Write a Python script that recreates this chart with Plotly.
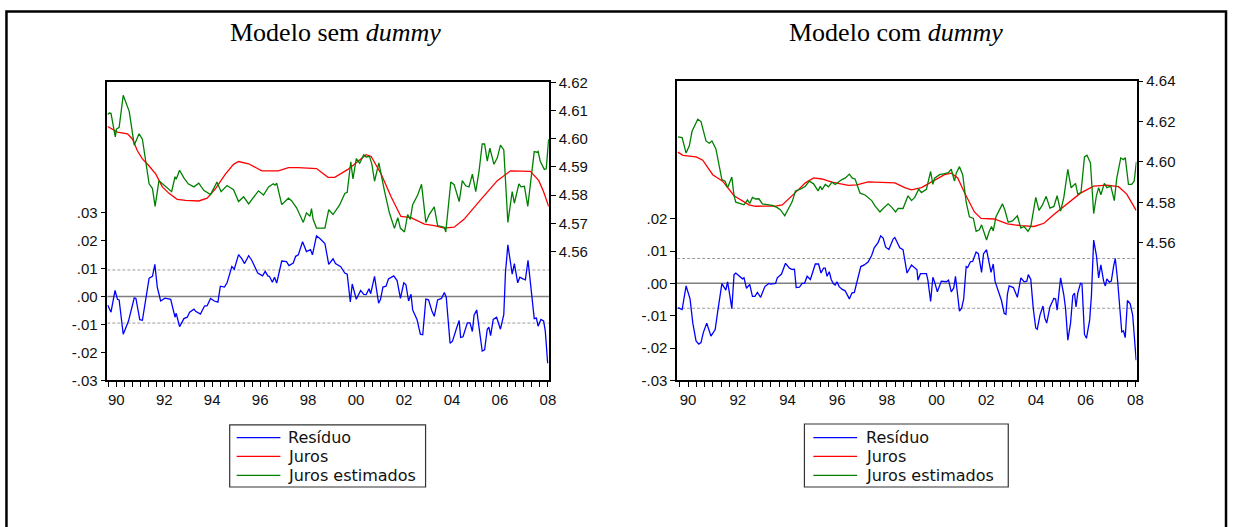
import plotly.graph_objects as go

# ---------------- Modelo sem dummy ----------------
res_sem_t = [1989.64, 1989.78, 1989.95, 1990.05, 1990.12, 1990.29, 1990.51, 1990.75, 1990.82, 1990.98,
             1991.09, 1991.23, 1991.37, 1991.51, 1991.61, 1991.71, 1991.85, 1992.03, 1992.27, 1992.45,
             1992.50, 1992.64, 1992.82, 1992.96, 1993.06, 1993.24, 1993.31, 1993.51, 1993.68, 1993.79,
             1993.93, 1994.09, 1994.24, 1994.34, 1994.51, 1994.62, 1994.82, 1994.92, 1995.10, 1995.24,
             1995.35, 1995.52, 1995.65, 1995.90, 1996.00, 1996.10, 1996.21, 1996.32, 1996.39, 1996.51,
             1996.60, 1996.69, 1996.90, 1997.10, 1997.20, 1997.38, 1997.48, 1997.59, 1997.77, 1997.93,
             1998.10, 1998.18, 1998.35, 1998.49, 1998.70, 1998.86, 1999.04, 1999.14, 1999.36, 1999.53,
             1999.63, 1999.76, 1999.84, 2000.01, 2000.19, 2000.32, 2000.42, 2000.54, 2000.61, 2000.77,
             2000.94, 2001.02, 2001.12, 2001.25, 2001.35, 2001.57, 2001.71, 2001.85, 2001.99, 2002.08,
             2002.19, 2002.29, 2002.36, 2002.54, 2002.68, 2002.78, 2002.91, 2003.02, 2003.16, 2003.26,
             2003.40, 2003.56, 2003.68, 2003.76, 2003.92, 2004.02, 2004.20, 2004.30, 2004.36, 2004.46,
             2004.64, 2004.75, 2004.85, 2004.92, 2005.03, 2005.15, 2005.26, 2005.36, 2005.47, 2005.54,
             2005.61, 2005.72, 2005.86, 2006.02, 2006.16, 2006.23, 2006.33, 2006.51, 2006.60, 2006.74,
             2006.83, 2006.96, 2007.06, 2007.17, 2007.27, 2007.34, 2007.43, 2007.52, 2007.59, 2007.71,
             2007.82, 2007.89, 2007.99]
res_sem_v = [-0.0030, -0.0056, 0.0022, -0.0010, -0.0012, -0.0135, -0.0088, -0.0005, -0.0007, -0.0083,
             -0.0085, 0.0000, 0.0066, 0.0072, 0.0115, 0.0034, -0.0016, -0.0006, -0.0010, -0.0074,
             -0.0060, -0.0108, -0.0079, -0.0074, -0.0056, -0.0045, -0.0053, -0.0063, -0.0034, -0.0033,
             -0.0007, -0.0016, -0.0020, 0.0037, 0.0034, 0.0049, 0.0107, 0.0098, 0.0150, 0.0135,
             0.0118, 0.0146, 0.0130, 0.0084, 0.0080, 0.0074, 0.0090, 0.0074, 0.0072, 0.0051,
             0.0069, 0.0048, 0.0127, 0.0125, 0.0111, 0.0120, 0.0144, 0.0149, 0.0196, 0.0161,
             0.0168, 0.0149, 0.0217, 0.0208, 0.0190, 0.0115, 0.0135, 0.0118, 0.0107, 0.0084,
             0.0080, -0.0019, 0.0045, -0.0010, 0.0022, 0.0008, 0.0007, 0.0028, 0.0010, 0.0072,
             -0.0024, -0.0010, 0.0034, 0.0037, 0.0063, 0.0074, 0.0057, -0.0007, 0.0049, 0.0042,
             -0.0016, 0.0008, -0.0048, -0.0082, -0.0135, -0.0137, -0.0009, -0.0012, -0.0051, -0.0071,
             -0.0012, -0.0007, 0.0014, -0.0002, -0.0167, -0.0160, -0.0111, -0.0086, -0.0146, -0.0144,
             -0.0094, -0.0094, -0.0125, -0.0067, -0.0048, -0.0117, -0.0195, -0.0191, -0.0117, -0.0110,
             -0.0140, -0.0082, -0.0074, -0.0117, -0.0065, 0.0086, 0.0185, 0.0080, 0.0118, 0.0049,
             0.0069, 0.0063, 0.0060, 0.0130, 0.0057, 0.0005, -0.0079, -0.0077, -0.0106, -0.0082,
             -0.0087, -0.0123, -0.0239]

jur_sem_t = [1989.64, 1990.05, 1990.47, 1990.68, 1990.88, 1991.09, 1991.37, 1991.65, 1991.92, 1992.20,
             1992.54, 1992.89, 1993.44, 1993.79, 1994.14, 1994.55, 1994.89, 1995.10, 1995.52, 1996.07,
             1996.76, 1997.18, 1997.59, 1998.14, 1998.35, 1998.83, 1999.11, 1999.66, 2000.08, 2000.42,
             2000.63, 2001.05, 2001.46, 2001.87, 2002.29, 2002.85, 2003.26, 2003.68, 2004.09, 2004.50,
             2005.19, 2005.89, 2006.44, 2007.27, 2007.62, 2007.82, 2008.03]
jur_sem_v = [4.6043, 4.6023, 4.6017, 4.5998, 4.5957, 4.5928, 4.5903, 4.5874, 4.5829, 4.5806,
             4.5785, 4.5781, 4.5779, 4.5789, 4.5823, 4.5874, 4.5909, 4.5919, 4.5911, 4.5886,
             4.5886, 4.5897, 4.5897, 4.5895, 4.5894, 4.5863, 4.5863, 4.5891, 4.5920, 4.5943,
             4.5937, 4.5874, 4.5794, 4.5724, 4.5720, 4.5697, 4.5692, 4.5683, 4.5686, 4.5714,
             4.5783, 4.5851, 4.5886, 4.5884, 4.5851, 4.5812, 4.5760]

est_sem_t = [1989.64, 1989.71, 1989.78, 1989.96, 1990.01, 1990.12, 1990.29, 1990.54, 1990.75, 1990.95,
             1991.09, 1991.37, 1991.51, 1991.62, 1991.78, 1991.92, 1992.06, 1992.31, 1992.45, 1992.50,
             1992.64, 1992.82, 1993.00, 1993.24, 1993.44, 1993.65, 1993.93, 1994.20, 1994.37, 1994.62,
             1994.89, 1995.10, 1995.31, 1995.52, 1995.93, 1996.14, 1996.35, 1996.55, 1996.62, 1996.69,
             1996.90, 1997.18, 1997.31, 1997.52, 1997.80, 1997.93, 1998.08, 1998.14, 1998.21, 1998.35,
             1998.70, 1998.86, 1999.04, 1999.32, 1999.53, 1999.63, 1999.78, 1999.87, 2000.01, 2000.15,
             2000.32, 2000.42, 2000.56, 2000.66, 2000.77, 2000.95, 2001.19, 2001.39, 2001.60, 2001.74,
             2001.85, 2002.02, 2002.15, 2002.26, 2002.36, 2002.57, 2002.73, 2002.91, 2003.05, 2003.26,
             2003.40, 2003.68, 2003.74, 2003.95, 2004.09, 2004.30, 2004.43, 2004.57, 2004.71, 2004.85,
             2004.99, 2005.13, 2005.26, 2005.36, 2005.47, 2005.58, 2005.75, 2005.89, 2006.02, 2006.16,
             2006.33, 2006.51, 2006.60, 2006.79, 2006.88, 2007.02, 2007.16, 2007.34, 2007.43, 2007.54,
             2007.59, 2007.68, 2007.85, 2007.93, 2008.03]
est_sem_v = [4.6086, 4.6091, 4.6090, 4.6006, 4.6034, 4.6040, 4.6154, 4.6097, 4.5977, 4.6017,
             4.5998, 4.5840, 4.5823, 4.5760, 4.5851, 4.5840, 4.5829, 4.5812, 4.5865, 4.5856,
             4.5888, 4.5861, 4.5840, 4.5829, 4.5842, 4.5817, 4.5802, 4.5846, 4.5812, 4.5834,
             4.5819, 4.5777, 4.5794, 4.5769, 4.5815, 4.5800, 4.5829, 4.5840, 4.5835, 4.5842,
             4.5766, 4.5789, 4.5780, 4.5755, 4.5703, 4.5737, 4.5725, 4.5752, 4.5714, 4.5683,
             4.5683, 4.5748, 4.5731, 4.5766, 4.5806, 4.5810, 4.5918, 4.5857, 4.5929, 4.5913,
             4.5943, 4.5935, 4.5937, 4.5909, 4.5849, 4.5914, 4.5812, 4.5737, 4.5682, 4.5720,
             4.5682, 4.5669, 4.5731, 4.5714, 4.5766, 4.5800, 4.5838, 4.5703, 4.5731, 4.5758,
             4.5692, 4.5686, 4.5669, 4.5846, 4.5837, 4.5777, 4.5851, 4.5833, 4.5829, 4.5874,
             4.5812, 4.5886, 4.5981, 4.5981, 4.5920, 4.5966, 4.5909, 4.5932, 4.5977, 4.5960,
             4.5703, 4.5812, 4.5771, 4.5840, 4.5829, 4.5831, 4.5760, 4.5891, 4.5954, 4.5952,
             4.5955, 4.5920, 4.5891, 4.5893, 4.5998]

# ---------------- Modelo com dummy ----------------
res_com_t = [1989.59, 1989.76, 1989.92, 1990.08, 1990.19, 1990.32, 1990.43, 1990.52, 1990.61, 1990.75,
             1990.92, 1991.09, 1991.19, 1991.36, 1991.52, 1991.59, 1991.68, 1991.76, 1991.85, 1991.92,
             1992.19, 1992.25, 1992.35, 1992.48, 1992.59, 1992.69, 1992.79, 1992.92, 1993.09, 1993.25,
             1993.32, 1993.45, 1993.52, 1993.59, 1993.76, 1993.92, 1994.08, 1994.19, 1994.28, 1994.35,
             1994.48, 1994.59, 1994.69, 1994.79, 1994.92, 1995.12, 1995.25, 1995.35, 1995.45, 1995.52,
             1995.59, 1995.68, 1995.76, 1995.85, 1995.92, 1995.99, 1996.08, 1996.19, 1996.32, 1996.49,
             1996.59, 1996.69, 1996.79, 1996.95, 1997.09, 1997.25, 1997.39, 1997.49, 1997.65, 1997.75,
             1997.85, 1997.95, 1998.08, 1998.25, 1998.32, 1998.52, 1998.65, 1998.81, 1998.99, 1999.15,
             1999.21, 1999.25, 1999.35, 1999.59, 1999.65, 1999.76, 1999.85, 1999.92, 2000.03, 2000.19,
             2000.39, 2000.48, 2000.59, 2000.69, 2000.76, 2000.92, 2001.01, 2001.09, 2001.19, 2001.25,
             2001.36, 2001.45, 2001.59, 2001.68, 2001.81, 2001.89, 2002.01, 2002.19, 2002.28, 2002.35,
             2002.48, 2002.61, 2002.72, 2002.79, 2002.85, 2002.92, 2003.09, 2003.25, 2003.39, 2003.52,
             2003.63, 2003.69, 2003.79, 2003.89, 2003.99, 2004.05, 2004.16, 2004.28, 2004.35, 2004.43,
             2004.56, 2004.72, 2004.79, 2004.85, 2004.99, 2005.12, 2005.19, 2005.28, 2005.39, 2005.48,
             2005.55, 2005.61, 2005.68, 2005.79, 2005.85, 2005.95, 2006.03, 2006.16, 2006.23, 2006.32,
             2006.43, 2006.52, 2006.61, 2006.72, 2006.79, 2006.85, 2006.95, 2007.03, 2007.12, 2007.19,
             2007.28, 2007.36, 2007.45, 2007.52, 2007.59, 2007.68, 2007.79, 2007.89, 2008.03]
res_com_v = [-0.0075, -0.0081, -0.0008, -0.0048, -0.0123, -0.0178, -0.0188, -0.0183, -0.0153, -0.0123,
             -0.0163, -0.0143, -0.0088, -0.0001, -0.0021, 0.0005, -0.0038, -0.0078, 0.0027, 0.0032,
             0.0014, 0.0017, -0.0015, -0.0003, -0.0040, -0.0040, -0.0028, -0.0043, -0.0010, 0.0000,
             -0.0002, 0.0000, 0.0000, 0.0017, 0.0029, 0.0062, 0.0047, 0.0043, 0.0044, -0.0013,
             -0.0012, 0.0000, 0.0001, 0.0022, 0.0012, 0.0060, 0.0060, 0.0032, 0.0047, 0.0047,
             0.0022, 0.0036, 0.0012, -0.0001, -0.0005, 0.0005, -0.0010, -0.0018, -0.0023, -0.0048,
             -0.0030, -0.0028, 0.0002, 0.0052, 0.0057, 0.0067, 0.0087, 0.0110, 0.0127, 0.0147,
             0.0140, 0.0112, 0.0105, 0.0137, 0.0142, 0.0110, 0.0104, 0.0032, 0.0057, 0.0044,
             0.0042, 0.0010, 0.0030, 0.0030, 0.0010, -0.0056, 0.0019, 0.0004, -0.0026, 0.0007,
             0.0005, 0.0010, -0.0026, -0.0014, 0.0022, -0.0086, -0.0076, -0.0048, 0.0052, 0.0049,
             0.0067, 0.0068, 0.0097, 0.0092, 0.0034, 0.0092, 0.0104, 0.0034, 0.0060, 0.0007,
             -0.0023, -0.0053, -0.0093, -0.0096, -0.0033, -0.0008, -0.0013, -0.0043, 0.0017, 0.0005,
             0.0007, 0.0027, 0.0012, -0.0078, -0.0138, -0.0142, -0.0098, -0.0070, -0.0106, -0.0123,
             -0.0073, -0.0046, -0.0048, -0.0083, 0.0017, -0.0036, -0.0078, -0.0176, -0.0123, -0.0038,
             -0.0030, -0.0073, -0.0030, 0.0000, -0.0002, -0.0158, -0.0170, -0.0113, -0.0038, 0.0134,
             0.0087, 0.0017, 0.0057, 0.0007, -0.0008, 0.0014, 0.0004, 0.0007, 0.0052, 0.0077,
             0.0012, -0.0060, -0.0150, -0.0147, -0.0168, -0.0053, -0.0063, -0.0098, -0.0238]

jur_com_t = [1989.59, 1989.79, 1990.32, 1990.59, 1990.99, 1991.39, 1991.85, 1992.45, 1992.72, 1993.52,
             1993.79, 1994.05, 1994.39, 1994.72, 1995.05, 1995.39, 1995.79, 1996.45, 1996.79, 1997.25,
             1997.79, 1998.32, 1998.72, 1998.99, 1999.39, 1999.92, 2000.32, 2000.59, 2000.85, 2001.12,
             2001.52, 2001.79, 2002.32, 2002.85, 2003.39, 2003.92, 2004.32, 2004.72, 2005.25, 2005.79,
             2006.32, 2006.85, 2007.32, 2007.65, 2008.03]
jur_com_v = [4.6049, 4.6033, 4.6025, 4.6009, 4.5937, 4.5905, 4.5833, 4.5788, 4.5781, 4.5782,
             4.5788, 4.5817, 4.5857, 4.5897, 4.5921, 4.5916, 4.5900, 4.5884, 4.5887, 4.5902,
             4.5900, 4.5897, 4.5873, 4.5862, 4.5873, 4.5910, 4.5937, 4.5945, 4.5921, 4.5849,
             4.5753, 4.5721, 4.5718, 4.5694, 4.5685, 4.5681, 4.5697, 4.5740, 4.5793, 4.5846,
             4.5881, 4.5886, 4.5878, 4.5841, 4.5761]

est_com_t = [1989.59, 1989.76, 1989.92, 1990.05, 1990.16, 1990.39, 1990.52, 1990.72, 1990.85, 1990.96,
             1991.12, 1991.36, 1991.49, 1991.59, 1991.76, 1991.85, 1991.92, 1992.12, 1992.25, 1992.39,
             1992.48, 1992.59, 1992.72, 1992.85, 1992.99, 1993.19, 1993.39, 1993.59, 1993.72, 1993.89,
             1994.05, 1994.19, 1994.32, 1994.52, 1994.72, 1994.88, 1995.05, 1995.23, 1995.32, 1995.39,
             1995.52, 1995.65, 1995.79, 1995.92, 1996.19, 1996.32, 1996.49, 1996.61, 1996.72, 1996.92,
             1997.12, 1997.39, 1997.52, 1997.72, 1997.85, 1998.05, 1998.19, 1998.35, 1998.45, 1998.65,
             1998.85, 1998.99, 1999.12, 1999.28, 1999.39, 1999.59, 1999.76, 1999.85, 1999.92, 2000.12,
             2000.32, 2000.48, 2000.59, 2000.72, 2000.79, 2000.92, 2001.05, 2001.19, 2001.32, 2001.48,
             2001.59, 2001.72, 2001.81, 2001.89, 2002.01, 2002.12, 2002.21, 2002.28, 2002.39, 2002.65,
             2002.75, 2002.88, 2003.05, 2003.25, 2003.39, 2003.52, 2003.68, 2003.79, 2003.99, 2004.12,
             2004.25, 2004.41, 2004.56, 2004.72, 2004.85, 2004.99, 2005.12, 2005.28, 2005.41, 2005.59,
             2005.68, 2005.81, 2005.95, 2006.05, 2006.19, 2006.32, 2006.43, 2006.52, 2006.61, 2006.75,
             2006.85, 2007.01, 2007.15, 2007.25, 2007.41, 2007.52, 2007.59, 2007.72, 2007.85, 2007.95,
             2008.04]
est_com_v = [4.6124, 4.6121, 4.6044, 4.6080, 4.6152, 4.6212, 4.6200, 4.6104, 4.6093, 4.6104,
             4.6065, 4.5913, 4.5905, 4.5873, 4.5926, 4.5833, 4.5801, 4.5792, 4.5788, 4.5812,
             4.5795, 4.5825, 4.5817, 4.5818, 4.5793, 4.5789, 4.5785, 4.5774, 4.5763, 4.5734,
             4.5769, 4.5804, 4.5857, 4.5866, 4.5880, 4.5905, 4.5892, 4.5857, 4.5880, 4.5863,
             4.5889, 4.5877, 4.5900, 4.5889, 4.5913, 4.5920, 4.5940, 4.5920, 4.5916, 4.5846,
             4.5837, 4.5809, 4.5783, 4.5753, 4.5770, 4.5793, 4.5777, 4.5753, 4.5770, 4.5770,
             4.5833, 4.5809, 4.5825, 4.5865, 4.5849, 4.5865, 4.5953, 4.5889, 4.5920, 4.5937,
             4.5942, 4.5948, 4.5964, 4.5905, 4.5945, 4.5977, 4.5937, 4.5801, 4.5729, 4.5721,
             4.5657, 4.5665, 4.5689, 4.5657, 4.5614, 4.5657, 4.5681, 4.5659, 4.5729, 4.5793,
             4.5761, 4.5702, 4.5709, 4.5734, 4.5673, 4.5681, 4.5657, 4.5681, 4.5825, 4.5761,
             4.5785, 4.5830, 4.5772, 4.5780, 4.5833, 4.5757, 4.5825, 4.5964, 4.5873, 4.5894,
             4.5841, 4.5849, 4.6025, 4.6033, 4.5996, 4.5745, 4.5833, 4.5873, 4.5838, 4.5894,
             4.5873, 4.5881, 4.5809, 4.5920, 4.6020, 4.6012, 4.6022, 4.5889, 4.5889, 4.5905,
             4.6001]

# +/- one standard error band of the residuals
band_sem = 0.0095
band_com = 0.0077

year_ticks = [1990, 1992, 1994, 1996, 1998, 2000, 2002, 2004, 2006, 2008]
year_labels = ["90", "92", "94", "96", "98", "00", "02", "04", "06", "08"]
res_sem_ticks = [-0.03, -0.02, -0.01, 0.0, 0.01, 0.02, 0.03]
res_com_ticks = [-0.03, -0.02, -0.01, 0.0, 0.01, 0.02]
res_labels = {-0.03: "-.03", -0.02: "-.02", -0.01: "-.01", 0.0: ".00",
              0.01: ".01", 0.02: ".02", 0.03: ".03"}
jur_sem_ticks = [4.56, 4.57, 4.58, 4.59, 4.60, 4.61, 4.62]
jur_com_ticks = [4.56, 4.58, 4.60, 4.62, 4.64]

titles = ["Modelo sem <i>dummy</i>", "Modelo com <i>dummy</i>"]
names = ["Resíduo", "Juros", "Juros estimados"]
colors = ["#0000FF", "#FF0000", "#008000"]

W, H = 1237, 527


def px(x):
    return x / W


def py(y):
    return 1 - y / H


TICK_FONT = dict(family="Liberation Sans, Arial, sans-serif", size=15, color="#111")
LEG_FONT = dict(family="DejaVu Sans, sans-serif", size=16, color="#111")

fig = go.Figure()

panels = [
    dict(res=(res_sem_t, res_sem_v), jur=(jur_sem_t, jur_sem_v), est=(est_sem_t, est_sem_v),
         band=band_sem, box=(108, 552, 76, 384),
         xr=[1989.63, 2008.04], y1r=[-0.03, 0.0769], y2r=[4.5143, 4.6202],
         y1t=res_sem_ticks, y2t=jur_sem_ticks,
         title_x=337.5, leg_box=(231, 428, 430, 494), leg_line=(238, 282), leg_text=288),
    dict(res=(res_com_t, res_com_v), jur=(jur_com_t, jur_com_v), est=(est_com_t, est_com_v),
         band=band_com, box=(681, 1143, 75, 384),
         xr=[1989.56, 2008.045], y1r=[-0.03, 0.0627], y2r=[4.492, 4.6402],
         y1t=res_com_ticks, y2t=jur_com_ticks,
         title_x=901.5, leg_box=(809, 1014, 429, 494), leg_line=(818, 862), leg_text=869),
]
legend_rows = [443, 462.5, 482]

shapes = []
annotations = []
for i, p in enumerate(panels):
    xa = "x" if i == 0 else "x2"
    ya1 = "y" if i == 0 else "y3"
    ya2 = "y2" if i == 0 else "y4"
    xkey = "xaxis" if i == 0 else "xaxis2"
    y1key = "yaxis" if i == 0 else "yaxis3"
    y2key = "yaxis2" if i == 0 else "yaxis4"
    x0, x1, y0, y1 = p["box"]

    # reference lines for the residual
    shapes.append(dict(type="line", xref=f"{xa} domain", yref=ya1, x0=0, x1=1, y0=0, y1=0,
                       line=dict(color="#7f7f7f", width=1.5), layer="below"))
    for s in (p["band"], -p["band"]):
        shapes.append(dict(type="line", xref=f"{xa} domain", yref=ya1, x0=0, x1=1, y0=s, y1=s,
                           line=dict(color="#9a9a9a", width=1, dash="3px,2px"), layer="below"))

    for (t, v), name, col, yref in zip((p["res"], p["jur"], p["est"]), names, colors,
                                       (ya1, ya2, ya2)):
        fig.add_trace(go.Scatter(x=t, y=v, mode="lines", name=name, xaxis=xa, yaxis=yref,
                                 line=dict(color=col, width=1.3), showlegend=False,
                                 hoverinfo="skip"))

    fig.layout[xkey] = dict(domain=[px(x0), px(x1)], range=p["xr"], anchor=ya1,
                            showline=True, mirror=True, linecolor="black", linewidth=1.5,
                            tickvals=year_ticks, ticktext=year_labels, ticks="outside",
                            ticklen=5, tickcolor="black", tickfont=TICK_FONT,
                            minor=dict(dtick=1 / 3, tick0=1990, ticks="outside", ticklen=5,
                                       tickcolor="black"),
                            showgrid=False, zeroline=False, fixedrange=True)
    fig.layout[y1key] = dict(domain=[py(y1), py(y0)], range=p["y1r"], anchor=xa,
                             showline=True, linecolor="black", linewidth=1.5,
                             tickvals=p["y1t"], ticktext=[res_labels[v] for v in p["y1t"]],
                             ticks="outside", ticklen=5, tickcolor="black", tickfont=TICK_FONT,
                             showgrid=False, zeroline=False)
    fig.layout[y2key] = dict(range=p["y2r"], overlaying=ya1, side="right", anchor=xa,
                             showline=True, linecolor="black", linewidth=1.5,
                             tickvals=p["y2t"], ticktext=[f"{v:.2f}" for v in p["y2t"]],
                             ticks="outside", ticklen=5, tickcolor="black", tickfont=TICK_FONT,
                             showgrid=False, zeroline=False)

    annotations.append(dict(text=titles[i], xref="paper", yref="paper",
                            x=px(p["title_x"]), y=py(25), xanchor="center", yanchor="middle",
                            showarrow=False,
                            font=dict(family="Liberation Serif, Times New Roman, serif",
                                      size=26, color="black")))

    # legend box for the panel
    bx0, bx1, by0, by1 = p["leg_box"]
    shapes.append(dict(type="rect", xref="paper", yref="paper", x0=px(bx0), x1=px(bx1),
                       y0=py(by1), y1=py(by0), line=dict(color="#333", width=1.2),
                       fillcolor="white"))
    lx0, lx1 = p["leg_line"]
    for name, col, ry in zip(names, colors, legend_rows):
        shapes.append(dict(type="line", xref="paper", yref="paper", x0=px(lx0), x1=px(lx1),
                           y0=py(ry), y1=py(ry), line=dict(color=col, width=1.3)))
        annotations.append(dict(text=name, xref="paper", yref="paper", x=px(p["leg_text"]),
                                y=py(ry), xanchor="left", yanchor="middle", showarrow=False,
                                font=LEG_FONT))

# outer frame around the two panels (its bottom edge lies below the page)
shapes.append(dict(type="rect", xref="paper", yref="paper", x0=px(6.5), x1=px(1233),
                   y0=-0.05, y1=py(3.5), line=dict(color="black", width=2.5)))

fig.update_layout(
    width=W, height=H,
    margin=dict(l=0, r=0, t=0, b=0),
    paper_bgcolor="white", plot_bgcolor="white",
    shapes=shapes, annotations=annotations,
    showlegend=False,
)

fig.write_html("out.html")
